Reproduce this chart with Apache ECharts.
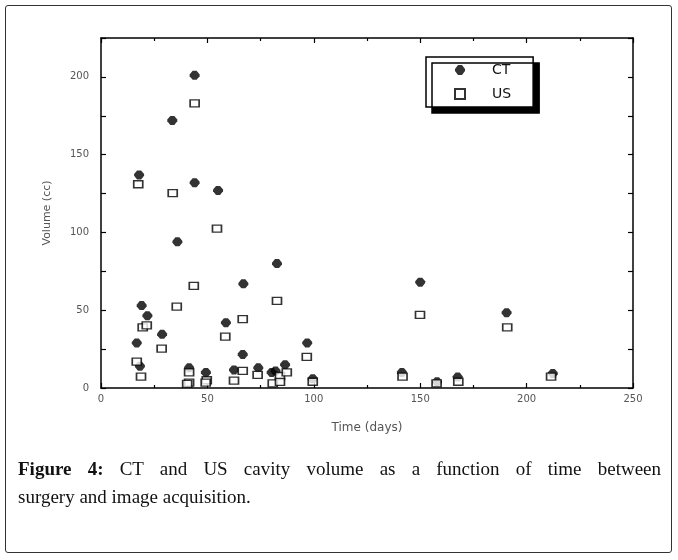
<!DOCTYPE html>
<html><head><meta charset="utf-8">
<script src="https://cdn.jsdelivr.net/npm/echarts@6/dist/echarts.min.js"></script>
<style>
html,body{margin:0;padding:0;background:#fff;}
#chart{position:absolute;left:0;top:0;width:678px;height:560px;}
#frame{position:absolute;left:5px;top:5px;width:667px;height:548px;border:1px solid #333;border-radius:3px;box-sizing:border-box;pointer-events:none;}
.cap{position:absolute;left:18px;width:643px;font-family:"Liberation Serif","Times New Roman",serif;font-size:19px;color:#111;line-height:28px;white-space:nowrap;}
#cap1{top:455px;text-align:justify;text-align-last:justify;}
#cap2{top:483px;}
</style></head><body>
<div id="chart"></div>
<div id="frame"></div>
<div class="cap" id="cap1"><b>Figure 4:</b> CT and US cavity volume as a function of time between</div>
<div class="cap" id="cap2">surgery and image acquisition.</div>
<script>
// Data (time in days, volume in cc)
const ctTime   = [17.9, 44, 55, 33.5, 44, 35.9, 82.7, 66.9, 19.1, 21.8, 58.7, 28.7, 16.8, 66.6, 18.3, 41.4, 49.3, 62.5, 73.9, 80.2, 82, 86.5, 96.9, 99.5, 141.4, 150, 157.9, 167.6, 190.6, 212.3];
const ctVolume = [137, 132, 127, 172, 201, 94, 80, 67, 53, 46.5, 42, 34.5, 29, 21.6, 14, 13, 10, 11.6, 13, 10, 11, 15, 29, 6, 10, 68, 4, 7, 48.4, 9.4];
const usTime   = [17.5, 44, 33.7, 54.5, 43.6, 82.7, 35.6, 19.6, 21.5, 66.6, 58.4, 28.5, 16.8, 18.8, 41.4, 41.4, 40.5, 49.7, 49.2, 62.5, 66.6, 73.6, 80.7, 84.1, 87.3, 84.1, 96.7, 99.5, 141.7, 149.9, 157.7, 167.9, 190.9, 211.5];
const usVolume = [131, 183, 125.3, 102.4, 65.6, 56, 52.3, 39, 40.3, 44.3, 33, 25.3, 17, 7.3, 10, 3.4, 2.6, 5, 3.5, 4.7, 11, 8.4, 3, 7.7, 10, 3.9, 20, 4, 7.3, 47, 3, 4, 39, 7.3];
const seriesNames = ['CT', 'US'];
const xTickValues = [0, 50, 100, 150, 200, 250];
const yTickValues = [0, 50, 100, 150, 200];

const ctData = ctTime.map((t, i) => [t, ctVolume[i]]);
const usData = usTime.map((t, i) => [t, usVolume[i]]);

const ctSymbol = 'path://M3,0 L7,0 L10,4 L10,6 L7,10 L3,10 L0,6 L0,4 Z';

const FONT = '"DejaVu Sans", "Liberation Sans", Arial, sans-serif';
const lab = {color:'#555', fontSize:10, fontFamily:FONT};
const axLine = {show:true, onZero:false, lineStyle:{color:'#000', width:1.5}};

const chart = echarts.init(document.getElementById('chart'));
const xBase = {type:'value', min:xTickValues[0], max:xTickValues[xTickValues.length-1], interval:xTickValues[1]-xTickValues[0],
  axisLine:axLine, splitLine:{show:false},
  axisTick:{show:true, inside:true, length:5, lineStyle:{color:'#000', width:1.2}},
  minorTick:{show:true, splitNumber:2, length:3, lineStyle:{color:'#000', width:1.2}}};
const yBase = {type:'value', min:0, max:225, interval:25,
  axisLine:axLine, splitLine:{show:false},
  axisTick:{show:true, inside:true, length:5, lineStyle:{color:'#000', width:1.2}}};

chart.setOption({
  animation:false,
  grid:{left:101, right:45, top:38, bottom:172},
  xAxis:[
    Object.assign({}, xBase, {position:'bottom', axisLabel:Object.assign({margin:6}, lab),
      name:'Time (days)', nameLocation:'middle', nameGap:34,
      nameTextStyle:{color:'#555', fontSize:12, fontFamily:FONT}}),
    Object.assign({}, xBase, {position:'top', axisLabel:{show:false}})
  ],
  yAxis:[
    Object.assign({}, yBase, {position:'left',
      axisLabel:Object.assign({margin:12, formatter:v => yTickValues.indexOf(v) >= 0 ? String(v) : ''}, lab),
      name:'Volume (cc)', nameLocation:'middle', nameGap:48,
      nameTextStyle:{color:'#555', fontSize:11, fontFamily:FONT}}),
    Object.assign({}, yBase, {position:'right', axisLabel:{show:false}})
  ],
  legend:{
    data:seriesNames, orient:'vertical', left:426, top:57,
    itemWidth:10, itemHeight:10, itemGap:10,
    padding:[6, 22, 6, 28],
    borderColor:'#000', borderWidth:1.5, backgroundColor:'#fff',
    shadowColor:'#000', shadowBlur:0, shadowOffsetX:6, shadowOffsetY:6,
    textStyle:{color:'#111', fontSize:14, padding:[0,0,0,22], fontFamily:FONT}
  },
  series:[
    {name:seriesNames[0], type:'scatter', data:ctData, symbol:ctSymbol, symbolSize:[10,9],
     itemStyle:{color:'#000'}},
    {name:seriesNames[1], type:'scatter', data:usData, symbol:'rect', symbolSize:[9,7],
     itemStyle:{color:'#fff', borderColor:'#000', borderWidth:1.5}}
  ]
});
</script>
</body></html>
